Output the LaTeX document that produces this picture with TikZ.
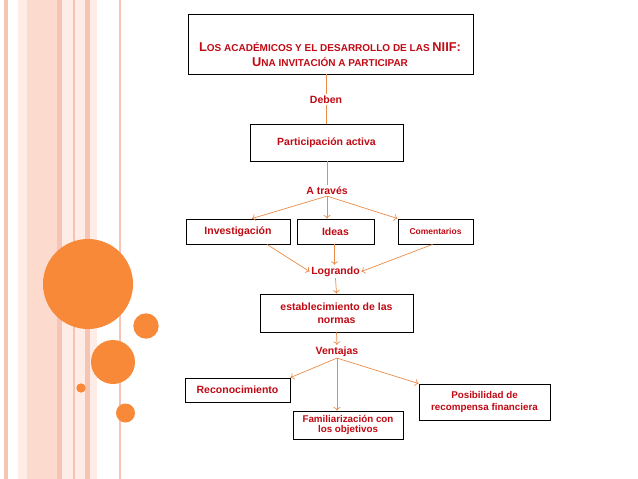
\documentclass[tikz,border=0pt]{standalone}
\usepackage{fontspec}
\setmainfont{Liberation Sans}
\usetikzlibrary{arrows.meta, positioning}
\definecolor{niifred}{RGB}{192,10,20}
\definecolor{linkorange}{RGB}{236,140,72}
\definecolor{dotorange}{RGB}{248,137,56}
\definecolor{pinkA}{RGB}{253,218,206}
\definecolor{pinkB}{RGB}{246,196,178}
\definecolor{pinkC}{RGB}{254,236,230}
\newcommand{\tcap}[1]{{\fontsize{12.8}{15}\selectfont #1}}
\newcommand{\tsmall}[1]{{\fontsize{10}{15}\selectfont #1}}
\tikzset{
  box/.style   = {draw=black, line width=0.9pt, fill=white, align=center,
                  text=niifred, font=\bfseries\fontsize{10.5}{13.5}\selectfont, inner sep=2pt},
  word/.style  = {text=niifred, font=\bfseries\fontsize{10.5}{12}\selectfont, inner sep=1.5pt},
  link/.style  = {draw=linkorange, line width=0.7pt},
  arrow/.style = {link, -{To[length=3.5pt, width=7pt]}},
  dot/.style   = {fill=dotorange},
}
\begin{document}
\begin{tikzpicture}[x=1pt, y=-1pt]
  \useasboundingbox (0,0) rectangle (638,479);
  \fill[white] (0,0) rectangle (638,479);
  \fill[pinkB] (4,0) rectangle (8,479);
  \fill[pinkC] (18,0) rectangle (27,479);
  \fill[pinkA] (27,0) rectangle (57,479);
  \fill[pinkB] (57,0) rectangle (62,479);
  \fill[pinkC] (62,0) rectangle (73,479);
  \fill[pinkB] (73,0) rectangle (75,479);
  \fill[pinkC] (75,0) rectangle (85,479);
  \fill[pinkB] (85,0) rectangle (90,479);
  \fill[pinkC] (90,0) rectangle (97,479);
  \fill[pinkB] (118.5,0) rectangle (120.5,479);
  \fill[dot] (88,284) circle (45);
  \fill[dot] (146,326) circle (12.7);
  \fill[dot] (113,362) circle (22);
  \fill[dot] (81,388) circle (4.7);
  \fill[dot] (125.5,413) circle (9.5);

  \node[box, minimum width=285pt, minimum height=60pt] (title) at (330.5,44) {};
  \node[word, align=center, font=\bfseries\fontsize{10}{15}\selectfont] (titletext) at (330,55)
    {\tcap{L}\tsmall{OS ACADÉMICOS Y EL DESARROLLO DE LAS }\tcap{NIIF:}\\
     \tcap{U}\tsmall{NA INVITACIÓN A PARTICIPAR}};
  \node[word] (deben) at (326,99.5) {Deben};
  \node[box, minimum width=153pt, minimum height=37pt] (part) at (326.5,142.5) {Participación activa};
  \node[word] (atraves) at (327,190.5) {A través};
  \node[box, minimum width=104pt, minimum height=25pt] (inv) at (238,231.5) {Investigación};
  \node[box, minimum width=77pt, minimum height=25pt] (ideas) at (335.5,231.5) {Ideas};
  \node[box, minimum width=75pt, minimum height=25pt, font=\bfseries\fontsize{8.5}{10}\selectfont]
    (coment) at (435.5,231.5) {Comentarios};
  \node[word] (logrando) at (335.5,271.5) {Logrando};
  \node[box, minimum width=153pt, minimum height=38pt] (estab) at (336.5,313)
    {establecimiento de las\\normas};
  \node[word] (ventajas) at (337,351.5) {Ventajas};
  \node[box, minimum width=105pt, minimum height=24pt] (recon) at (237.5,390) {Reconocimiento};
  \node[box, minimum width=110pt, minimum height=28pt, font=\bfseries\fontsize{9.8}{10.8}\selectfont]
    (famil) at (348,425) {Familiarización con\\los objetivos};
  \node[box, minimum width=131pt, minimum height=36pt, font=\bfseries\fontsize{9.8}{12}\selectfont]
    (posib) at (484.5,402) {Posibilidad de\\recompensa financiera};

  \draw[link] (title.south -| deben) -- (deben.north);
  \draw[link] (deben.south) -- (part.north -| deben);
  \draw[link] (part.south -| atraves) -- (atraves.north);
  \draw[arrow] (atraves.south) -- ([xshift=14pt]inv.north);
  \draw[arrow] (atraves.south) -- (atraves.south |- ideas.north);
  \draw[arrow] (atraves.south) -- (coment.north west);
  \draw[arrow] ([xshift=29pt]inv.south) -- (logrando.west);
  \draw[arrow] ([xshift=-1pt]ideas.south) -- ([xshift=-1pt]logrando.north);
  \draw[arrow] ([xshift=-3pt]coment.south) -- (logrando.east);
  \draw[arrow] (logrando.south) -- (estab.north);
  \draw[arrow] (estab.south) -- (ventajas.north);
  \draw[arrow] (ventajas.south) -- (recon.north east);
  \draw[arrow] (ventajas.south) -- (ventajas.south |- famil.north);
  \draw[arrow] (ventajas.south) -- (posib.north west);
\end{tikzpicture}
\end{document}
